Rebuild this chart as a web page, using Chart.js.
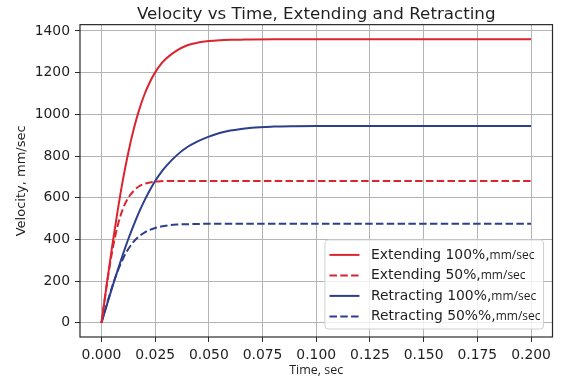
<!DOCTYPE html>
<html><head><meta charset="utf-8">
<script src="https://cdn.jsdelivr.net/npm/chart.js@4"></script>
<style>html,body{margin:0;padding:0;background:#fff;}#wrap{width:571px;height:380px;position:relative;}</style>
</head><body><div id="wrap"><canvas id="c" width="571" height="380"></canvas></div>
<script>
// ---- data ----
const timeSec = [0,0.0025,0.005,0.0075,0.01,0.0125,0.015,0.0175,0.02,0.0225,0.025,0.0275,0.03,0.035,0.04,0.045,0.05,0.055,0.06,0.065,0.07,0.08,0.09,0.1,0.125,0.15,0.175,0.2];
const extending100 = [0,188,369,536,687,817,928,1020,1095,1154,1201,1238,1266,1305,1331,1344,1351,1355,1357,1358,1359,1360,1360,1360,1360,1360,1360,1360];
const extending50  = [0,184,343,464,547,600,633,655,667,673,677,679,680,680,680,680,680,680,680,680,680,680,680,680,680,680,680,680];
const retracting100 = [0,86,170,251,329,402,469,531,586,636,680,718,750,803,843,871,893,910,922,930,936,941,943,944,944,944,944,944];
const retracting50  = [0,90,174,247,307,354,389,415,433,446,455,461,466,471,473,474,475,475,475,475,475,475,475,475,475,475,475,475];
const seriesLabels = ['Extending 100%,mm/sec','Extending 50%,mm/sec','Retracting 100%,mm/sec','Retracting 50%%,mm/sec'];
const xTicks = [0,0.025,0.05,0.075,0.1,0.125,0.15,0.175,0.2];
const yTicks = [0,200,400,600,800,1000,1200,1400];

const RED = '#dc2430', BLUE = '#2c3e8c';
const toPts = arr => arr.map((v,i)=>({x:timeSec[i], y:v}));
const tickFont = {family:'"DejaVu Sans"', size:13.9};
const TXT = '#1f1f1f';
const GRID = '#b4b4b4';

const framePlugin = {
  id:'frame',
  afterDatasetsDraw(chart){
    const {ctx, chartArea:a} = chart;
    ctx.save();
    ctx.strokeStyle = '#2a2a2a'; ctx.lineWidth = 1.2;
    ctx.strokeRect(a.left, a.top, a.right-a.left, a.bottom-a.top);
    ctx.restore();
  }
};

const legendPlugin = {
  id:'mplLegend',
  afterDraw(chart){
    const {ctx, chartArea:a} = chart;
    const ds = chart.data.datasets;
    const mainFont = '13.9px "DejaVu Sans"', unitFont = '12px "Open Sans"';
    ctx.save();
    const parts = ds.map(d => { const i = d.label.lastIndexOf(','); return [d.label.slice(0,i+1), d.label.slice(i+1)]; });
    let maxW = 0;
    parts.forEach(p => { ctx.font = mainFont; let w = ctx.measureText(p[0]).width; ctx.font = unitFont; w += ctx.measureText(p[1]).width; maxW = Math.max(maxW, w); });
    const rowH = 20.5, padTop = 15, padBot = 12.6;
    const h = padTop + rowH*(ds.length-1) + padBot;
    const w = 46 + maxW + 3;
    const right = a.right - 9, bottom = a.bottom - 8;
    const left = right - w, top = bottom - h;
    const r = 3;
    ctx.beginPath();
    ctx.moveTo(left+r, top); ctx.lineTo(right-r, top); ctx.quadraticCurveTo(right, top, right, top+r);
    ctx.lineTo(right, bottom-r); ctx.quadraticCurveTo(right, bottom, right-r, bottom);
    ctx.lineTo(left+r, bottom); ctx.quadraticCurveTo(left, bottom, left, bottom-r);
    ctx.lineTo(left, top+r); ctx.quadraticCurveTo(left, top, left+r, top); ctx.closePath();
    ctx.fillStyle = 'rgba(255,255,255,0.8)'; ctx.fill();
    ctx.strokeStyle = '#d0d0d0'; ctx.lineWidth = 1; ctx.stroke();
    ds.forEach((d,i) => {
      const y = top + padTop + i*rowH;
      ctx.beginPath();
      ctx.strokeStyle = d.borderColor; ctx.lineWidth = d.borderWidth;
      ctx.setLineDash(d.borderDash || []);
      ctx.moveTo(left+4.5, y); ctx.lineTo(left+34.5, y); ctx.stroke();
      ctx.setLineDash([]);
      ctx.fillStyle = TXT; ctx.textBaseline = 'middle'; ctx.textAlign = 'left';
      ctx.font = mainFont; ctx.fillText(parts[i][0], left+46, y);
      const w0 = ctx.measureText(parts[i][0]).width;
      ctx.font = unitFont; ctx.fillText(parts[i][1], left+46+w0, y+0.5);
    });
    ctx.restore();
  }
};

const mk = (label, arr, color, dash) => ({label, data: toPts(arr), borderColor: color, backgroundColor: color,
  borderWidth: 2, borderDash: dash, pointRadius: 0, fill: false, cubicInterpolationMode: 'monotone'});

new Chart(document.getElementById('c'), {
  type: 'line',
  data: { datasets: [
    mk(seriesLabels[0], extending100, RED, []),
    mk(seriesLabels[1], extending50, RED, [7.5,3.3]),
    mk(seriesLabels[2], retracting100, BLUE, []),
    mk(seriesLabels[3], retracting50, BLUE, [7.5,3.3])
  ]},
  options: {
    responsive: false, animation: false, devicePixelRatio: 1,
    layout: { padding: {left:0, right:18.5, top:0.6, bottom:0} },
    plugins: {
      legend: {display:false}, tooltip: {enabled:false},
      title: {display:true, text:'Velocity vs Time, Extending and Retracting', fullSize:false, color:TXT,
        font:{family:'"DejaVu Sans"', size:16.7, weight:'normal', lineHeight:1.2}, padding:{top:4, bottom:0}}
    },
    scales: {
      x: { type:'linear', min:-0.01, max:0.21,
        afterBuildTicks: s => { s.ticks = xTicks.map(v => ({value:v})); },
        afterFit: s => { s.height = 43; },
        ticks: { callback: v => Number(v).toFixed(3), font: tickFont, color: TXT, padding: 5, maxRotation: 0, autoSkip: false },
        grid: { color:GRID, lineWidth:1, tickColor:'#2a2a2a', tickLength:5, drawTicks:true },
        border: { display:false },
        title: { display:true, text:'Time, sec', color:TXT, font:{family:'"Open Sans"', size:12.5, lineHeight:1.2}, padding:{top:0, bottom:2} }
      },
      y: { type:'linear', min:-68, max:1430,
        afterBuildTicks: s => { s.ticks = yTicks.map(v => ({value:v})); },
        afterFit: s => { s.width = 80; },
        ticks: { callback: v => String(v), font: tickFont, color: TXT, padding: 5, autoSkip: false },
        grid: { color:GRID, lineWidth:1, tickColor:'#2a2a2a', tickLength:5, drawTicks:true },
        border: { display:false },
        title: { display:true, text:'Velocity, mm/sec', color:TXT, font:{family:'"DejaVu Sans"', size:13, lineHeight:1.2}, padding:{top:14, bottom:0} }
      }
    }
  },
  plugins: [framePlugin, legendPlugin]
});
</script></body></html>
